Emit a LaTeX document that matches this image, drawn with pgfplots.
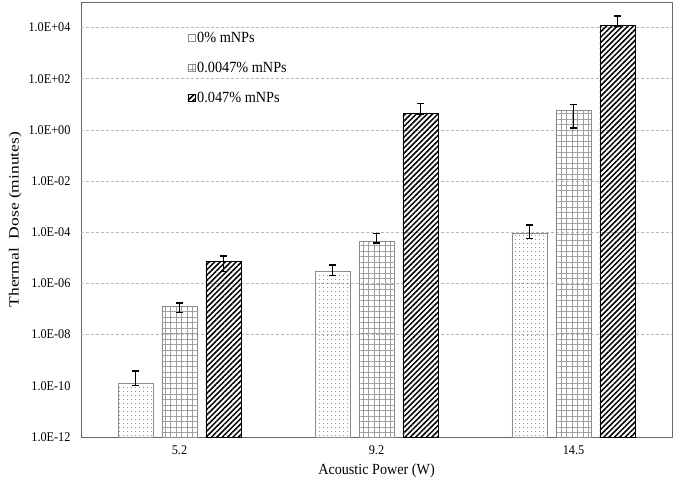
\documentclass[border=0pt]{standalone}
\usepackage{fontspec}
\setmainfont{Liberation Serif}[FakeStretch=0.92]
\newfontfamily\ylabfont{Liberation Serif}
\usepackage{graphicx}
\usepackage{pgfplots}
\pgfplotsset{compat=1.18}
\usepackage{pgfplotstable}
\usetikzlibrary{patterns.meta}

\pgfplotstableread{
x y ep em
0 1.3e-10 2.5e-10 0.3e-10
1 3.1e-6 2.2e-6 1.1e-6
2 9.3e-5 1.0e-4 3.4e-5
}\dotdata
\pgfplotstableread{
x y ep em
0 1.26e-7 0.45e-7 0.53e-7
1 4.3e-5 4.4e-5 0.52e-5
2 5.6 4.4 4.4
}\griddata
\pgfplotstableread{
x y ep em
0 7.2e-6 4.5e-6 4.2e-6
1 4.5 6.2 0.4
2 1.2e4 1.6e4 0.05e4
}\hatchdata

\begin{document}
\begin{tikzpicture}
\begin{axis}[
  scale only axis, width=591pt, height=435pt,
  ymode=log, log origin=infty,
  ymin=1e-12, ymax=1e5,
  xmin=-0.5, xmax=2.5,
  xtick={0,1,2}, xticklabels={5.2,9.2,14.5},
  ytick={1e-12,1e-10,1e-8,1e-6,1e-4,1e-2,1,1e2,1e4},
  yticklabels={1.0E-12,1.0E-10,1.0E-08,1.0E-06,1.0E-04,1.0E-02,1.0E+00,1.0E+02,1.0E+04},
  yminorticks=false,
  major tick length=0pt,
  extra y ticks={1e-8,1e-6,1e-4,1e-2,1,1e2,1e4},
  extra y tick labels={},
  extra y tick style={grid=major},
  major grid style={gray!55, dash pattern=on 3pt off 2pt, line width=0.8pt},
  axis line style={black!60, line width=0.8pt},
  ticklabel style={font=\fontsize{13.3}{15}\selectfont},
  yticklabel style={xshift=-7pt},
  xticklabel style={yshift=-5pt},
  label style={font=\fontsize{15.4}{18}\selectfont},
  xlabel style={yshift=-2pt},
  xlabel={Acoustic Power (W)},
  ylabel={\ylabfont\fontsize{14}{16}\selectfont\scalebox{1.25}[1]{Thermal\ \ Dose (minutes)}},
  legend style={at={(0.175,0.94)}, anchor=north west, draw=none, fill=none,
    font=\fontsize{15.5}{18}\selectfont, row sep=14pt},
  legend cell align=left,
  legend image code/.code={\draw[#1, line width=0.6pt] (0pt,-3.5pt) rectangle (7pt,3.5pt);},
  error bars/y dir=both, error bars/y explicit,
  error bars/error bar style={black, line width=1.3pt},
  error bars/error mark options={black, line width=1.3pt, mark size=3.5pt, rotate=90},
]
\addplot[ybar, bar width=0.178, bar shift=0, draw=gray!90, line width=0.8pt,
  pattern={Dots[radius=0.5pt, distance=4pt]}, pattern color=black!75]
  table[x expr=\thisrow{x}-0.2234, y=y, y error plus=ep, y error minus=em] {\dotdata};
\addlegendentry{0\% mNPs}
\addplot[ybar, bar width=0.178, bar shift=0, draw=gray!90, line width=0.8pt,
  pattern={Hatch[distance=5.5pt, line width=0.8pt]}, pattern color=gray!75]
  table[x=x, y=y, y error plus=ep, y error minus=em] {\griddata};
\addlegendentry{0.0047\% mNPs}
\addplot[ybar, bar width=0.178, bar shift=0, draw=black, line width=0.8pt,
  pattern={Lines[angle=45, distance=3.8pt, line width=1.5pt]}, pattern color=black]
  table[x expr=\thisrow{x}+0.2234, y=y, y error plus=ep, y error minus=em] {\hatchdata};
\addlegendentry{0.047\% mNPs}
\coordinate (sw) at (rel axis cs:0,0);
\coordinate (ne) at (rel axis cs:1,1);
\end{axis}
\pgfresetboundingbox
\path[use as bounding box] ([shift={(-81pt,-45pt)}]sw) rectangle ([shift={(3pt,2pt)}]ne);
\end{tikzpicture}
\end{document}
